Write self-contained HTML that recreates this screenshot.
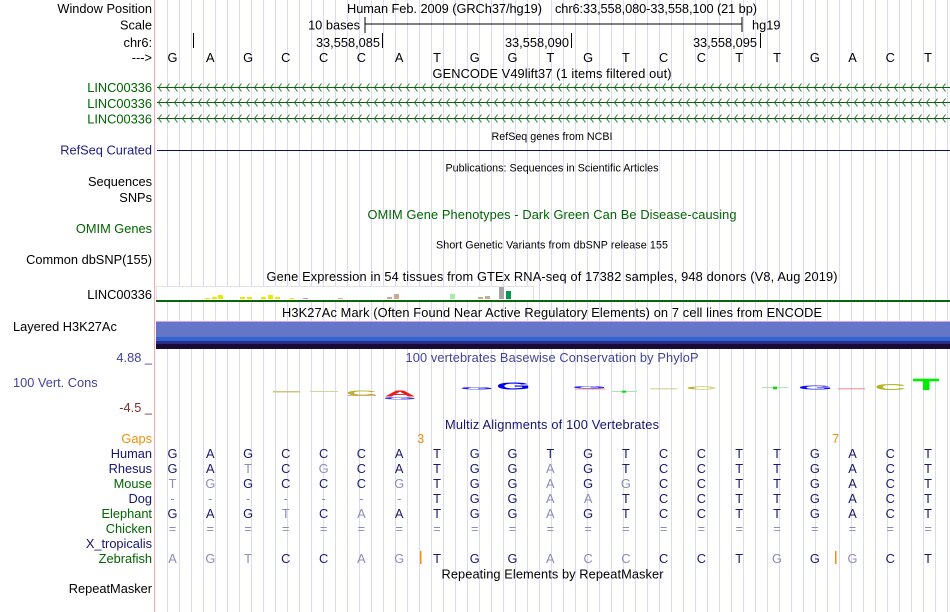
<!DOCTYPE html>
<html><head><meta charset="utf-8"><style>
html,body{margin:0;padding:0;background:#fff;}
svg{display:block;}
text{font-family:"Liberation Sans",Arial,sans-serif;font-size:12.8px;fill:#000;}
.s{font-size:10.7px;}
.r{text-anchor:end;}
.m{text-anchor:middle;}
.nv{fill:#141478;}
.gr{fill:#006400;}
.dk{fill:#1a1a72;}
.lt{fill:#8c8cba;}
.or{fill:#f0900a;}
.sb{fill:#42429a;}
</style></head><body>
<svg width="950" height="612" viewBox="0 0 950 612" xmlns="http://www.w3.org/2000/svg">
<defs>
<pattern id="gl" patternUnits="userSpaceOnUse" x="0" y="0" width="12" height="612"><rect x="11" y="0" width="1" height="612" fill="#dadaf6"/></pattern>
<pattern id="chev" patternUnits="userSpaceOnUse" x="158" y="0" width="8" height="10"><path d="M3.5,1 L0.5,5 L3.5,9" fill="none" stroke="#2a7a2a" stroke-width="1"/></pattern>
</defs>
<rect width="950" height="612" fill="#fff"/>
<rect x="156" y="0" width="794" height="612" fill="url(#gl)"/>
<rect x="154" y="0" width="1" height="612" fill="#f7a8a8"/>

<!-- header -->
<text class="r" x="152" y="13">Window Position</text>
<text x="347" y="13" textLength="195">Human Feb. 2009 (GRCh37/hg19)</text>
<text x="555" y="13" textLength="202">chr6:33,558,080-33,558,100 (21 bp)</text>

<text class="r" x="152" y="29.5">Scale</text>
<text class="r" x="360" y="29.5">10 bases</text>
<rect x="365" y="23.5" width="377" height="1" fill="#000"/>
<rect x="364.5" y="17" width="1" height="16" fill="#000"/>
<rect x="741.5" y="17" width="1" height="15" fill="#000"/>
<text x="752" y="29.5">hg19</text>

<text class="r" x="152" y="47">chr6:</text>
<rect x="193" y="33" width="1" height="15" fill="#000"/>
<rect x="382" y="33" width="1" height="15" fill="#000"/>
<rect x="571" y="33" width="1" height="15" fill="#000"/>
<rect x="760" y="33" width="1" height="15" fill="#000"/>
<text class="r" x="380" y="47">33,558,085</text>
<text class="r" x="569" y="47">33,558,090</text>
<text class="r" x="757" y="47">33,558,095</text>

<text class="r" x="152" y="62">---&gt;</text>
<text class="m" x="172.5 210.3 248.1 285.8 323.6 361.4 399.2 437 474.7 512.5 550.3 588.1 625.9 663.6 701.4 739.2 777 814.8 852.5 890.3 928.1" y="62">GAGCCCATGGTGTCCTTGACT</text>

<!-- GENCODE -->
<text class="m" x="552" y="78" textLength="239">GENCODE V49lift37 (1 items filtered out)</text>
<text class="r gr" x="152" y="92">LINC00336</text>
<text class="r gr" x="152" y="108">LINC00336</text>
<text class="r gr" x="152" y="123.7">LINC00336</text>
<g transform="translate(0,82.5)"><rect x="157" y="0" width="793" height="10" fill="url(#chev)"/><rect x="157" y="4.5" width="793" height="1" fill="#0a640a"/></g>
<g transform="translate(0,97.5)"><rect x="157" y="0" width="793" height="10" fill="url(#chev)"/><rect x="157" y="4.5" width="793" height="1" fill="#0a640a"/></g>
<g transform="translate(0,113.5)"><rect x="157" y="0" width="793" height="10" fill="url(#chev)"/><rect x="157" y="4.5" width="793" height="1" fill="#0a640a"/></g>

<!-- RefSeq -->
<text class="m s" x="552" y="140" textLength="121">RefSeq genes from NCBI</text>
<text class="r" x="152" y="154.5" style="fill:#1c1c88">RefSeq Curated</text>
<rect x="157" y="150" width="793" height="1" fill="#0c0c78"/>

<text class="m s" x="552" y="171.3" textLength="213">Publications: Sequences in Scientific Articles</text>
<text class="r" x="152" y="186.2">Sequences</text>
<text class="r" x="152" y="201.8">SNPs</text>

<text class="m gr" x="552" y="218.8" textLength="369">OMIM Gene Phenotypes - Dark Green Can Be Disease-causing</text>
<text class="r gr" x="152" y="232.8">OMIM Genes</text>

<text class="m s" x="552" y="248.3" textLength="232">Short Genetic Variants from dbSNP release 155</text>
<text class="r" x="152" y="263.8">Common dbSNP(155)</text>

<!-- GTEx -->
<text class="m" x="552" y="281" textLength="571">Gene Expression in 54 tissues from GTEx RNA-seq of 17382 samples, 948 donors (V8, Aug 2019)</text>
<text class="r" x="152" y="298.8">LINC00336</text>
<rect x="156.5" y="286.5" width="377" height="14" fill="#fff" stroke="#e2e2e2" stroke-width="1"/>
<g>
<rect x="205" y="298" width="5" height="1" fill="#e8e800"/>
<rect x="212" y="297" width="5" height="2" fill="#e8e800"/>
<rect x="218" y="295" width="5" height="4" fill="#e8e800"/>
<rect x="240" y="297" width="5" height="2" fill="#e8e800"/>
<rect x="247" y="297" width="5" height="2" fill="#e8e800"/>
<rect x="261" y="297" width="5" height="2" fill="#e8e800"/>
<rect x="268" y="295" width="5" height="4" fill="#e8e800"/>
<rect x="275" y="297" width="5" height="2" fill="#e8e800"/>
<rect x="289" y="298" width="5" height="1" fill="#e8e800"/>
<rect x="303" y="298" width="5" height="1" fill="#e080e0"/>
<rect x="338" y="298" width="5" height="1" fill="#d2b48c"/>
<rect x="387" y="297" width="5" height="2" fill="#c8ac90"/>
<rect x="394" y="294" width="5" height="5" fill="#c8ac90"/>
<rect x="450" y="294" width="5" height="5" fill="#a8eca8"/>
<rect x="478" y="297" width="5" height="2" fill="#c8ac90"/>
<rect x="485" y="296" width="5" height="3" fill="#c8ac90"/>
<rect x="499" y="287" width="5" height="12" fill="#a4a4a4"/>
<rect x="506" y="291" width="5" height="8" fill="#009a50"/>
</g>
<rect x="156" y="300" width="794" height="2" fill="#0a640a"/>

<!-- H3K27Ac -->
<text class="m" x="552" y="316.8" textLength="540">H3K27Ac Mark (Often Found Near Active Regulatory Elements) on 7 cell lines from ENCODE</text>
<text x="13" y="331">Layered H3K27Ac</text>
<rect x="156" y="321" width="794" height="1" fill="#d8a0e8"/>
<rect x="156" y="322" width="794" height="15" fill="#6576c9"/>
<rect x="156" y="337" width="794" height="4" fill="#3064d0"/>
<rect x="156" y="341" width="794" height="3" fill="#2c2c8c"/>
<rect x="156" y="344" width="794" height="5" fill="#180c30"/>

<!-- PhyloP -->
<text class="r sb" x="152" y="362">4.88 _</text>
<text class="m sb" x="552" y="362" textLength="293">100 vertebrates Basewise Conservation by PhyloP</text>
<text class="sb" x="13" y="386.8">100 Vert. Cons</text>
<text class="r" x="152" y="411.8" style="fill:#7d3030">-4.5 _</text>

<g font-weight="bold" text-anchor="middle" style="font-size:10px">
<rect x="273" y="391" width="27" height="1.5" fill="#c8c878"/>
<rect x="310" y="391" width="28" height="1" fill="#d4d498"/>
<rect x="348" y="395" width="28" height="1" fill="#f0a0a0"/>
<text transform="translate(361.5,395.5) scale(4.3,0.72)" style="font-size:10px;fill:#b4b428;text-anchor:middle;font-weight:bold">C</text>
<text transform="translate(400,396.7) scale(4.4,0.83)" style="font-size:10px;fill:#ee1a1a;text-anchor:middle;font-weight:bold">A</text>
<text transform="translate(400,399.3) scale(4.4,0.36)" style="font-size:10px;fill:#3030f0;text-anchor:middle;font-weight:bold">G</text>
<text transform="translate(477,389.3) scale(4.4,0.36)" style="font-size:10px;fill:#2020f0;text-anchor:middle;font-weight:bold">G</text>
<text transform="translate(513.5,389.3) scale(4.5,1.04)" style="font-size:10px;fill:#0000f0;text-anchor:middle;font-weight:bold">G</text>
<rect x="575" y="388.5" width="30" height="1" fill="#f09090"/>
<text transform="translate(589.5,388.7) scale(4.5,0.32)" style="font-size:10px;fill:#2a2af0;text-anchor:middle;font-weight:bold">G</text>
<rect x="612" y="391" width="25" height="1" fill="#a8e8a8"/>
<rect x="622" y="390.7" width="4" height="2" fill="#00dd00"/>
<rect x="650" y="388.3" width="27" height="1" fill="#d0d080"/>
<text transform="translate(701.5,389.3) scale(4.4,0.45)" style="font-size:10px;fill:#b4b428;text-anchor:middle;font-weight:bold">C</text>
<rect x="762" y="387" width="26" height="1" fill="#a8e8a8"/>
<rect x="773" y="386.7" width="4" height="2.6" fill="#00dd00"/>
<text transform="translate(815.5,389.3) scale(4.5,0.59)" style="font-size:10px;fill:#1010f0;text-anchor:middle;font-weight:bold">G</text>
<rect x="838" y="388.3" width="27" height="1" fill="#f08888"/>
<text transform="translate(890.5,390) scale(4.4,0.78)" style="font-size:10px;fill:#b4b420;text-anchor:middle;font-weight:bold">C</text>
<rect x="913" y="378.7" width="26" height="2.6" fill="#00ee00"/>
<rect x="923" y="380" width="6.5" height="10" fill="#00ee00"/>
</g>

<!-- Multiz -->
<text class="m" x="552" y="428.8" textLength="214" style="fill:#141470">Multiz Alignments of 100 Vertebrates</text>
<text class="r or" x="152" y="442.8">Gaps</text>
<text class="m or" x="420.7" y="442.8">3</text>
<text class="m or" x="835.7" y="442.8">7</text>

<text class="r nv" x="152" y="457.8">Human</text>
<text class="r nv" x="152" y="472.8">Rhesus</text>
<text class="r gr" x="152" y="487.8">Mouse</text>
<text class="r nv" x="152" y="502.8">Dog</text>
<text class="r gr" x="152" y="517.8">Elephant</text>
<text class="r gr" x="152" y="532.8">Chicken</text>
<text class="r nv" x="152" y="547.8">X_tropicalis</text>
<text class="r gr" x="152" y="562.8">Zebrafish</text>

<!-- Human -->
<text class="m dk" x="172.5 210.3 248.1 285.8 323.6 361.4 399.2 437 474.7 512.5 550.3 588.1 625.9 663.6 701.4 739.2 777 814.8 852.5 890.3 928.1" y="457.8">GAGCCCATGGTGTCCTTGACT</text>
<!-- Rhesus -->
<text class="m dk" x="172.5 210.3 285.8 361.4 399.2 437 474.7 512.5 588.1 625.9 663.6 701.4 739.2 777 814.8 852.5 890.3 928.1" y="472.8">GACCATGGGTCCTTGACT</text>
<text class="m lt" x="248.1 323.6 550.3" y="472.8">TGA</text>
<!-- Mouse -->
<text class="m dk" x="248.1 285.8 323.6 361.4 437 474.7 512.5 588.1 663.6 701.4 739.2 777 814.8 852.5 890.3 928.1" y="487.8">GCCCTGGGCCTTGACT</text>
<text class="m lt" x="172.5 210.3 399.2 550.3 625.9" y="487.8">TGGAG</text>
<!-- Dog -->
<text class="m lt" x="172.5 210.3 248.1 285.8 323.6 361.4 399.2" y="502.8">-------</text>
<text class="m lt" x="550.3 588.1" y="502.8">AA</text>
<text class="m dk" x="437 474.7 512.5 625.9 663.6 701.4 739.2 777 814.8 852.5 890.3 928.1" y="502.8">TGGTCCTTGACT</text>
<!-- Elephant -->
<text class="m dk" x="172.5 210.3 248.1 323.6 399.2 437 474.7 512.5 588.1 625.9 663.6 701.4 739.2 777 814.8 852.5 890.3 928.1" y="517.8">GAGCATGGGTCCTTGACT</text>
<text class="m lt" x="285.8 361.4 550.3" y="517.8">TAA</text>
<!-- Chicken -->
<text class="m lt" x="172.5 210.3 248.1 285.8 323.6 361.4 399.2 437 474.7 512.5 550.3 588.1 625.9 663.6 701.4 739.2 777 814.8 852.5 890.3 928.1" y="532.8">=====================</text>
<!-- Zebrafish -->
<text class="m lt" x="172.5 210.3 248.1 361.4 399.2 550.3 588.1 625.9 777 852.5" y="562.8">AGTAGACCGG</text>
<text class="m dk" x="285.8 323.6 437 474.7 512.5 663.6 701.4 739.2 814.8 890.3 928.1" y="562.8">CCTGGCCTGCT</text>
<rect x="420" y="551" width="1.5" height="13" fill="#f0900a"/>
<rect x="835" y="551" width="1.5" height="13" fill="#f0900a"/>

<!-- RepeatMasker -->
<text class="m" x="552.5" y="578.5" textLength="222">Repeating Elements by RepeatMasker</text>
<text class="r" x="152" y="592.8">RepeatMasker</text>
</svg>
</body></html>
